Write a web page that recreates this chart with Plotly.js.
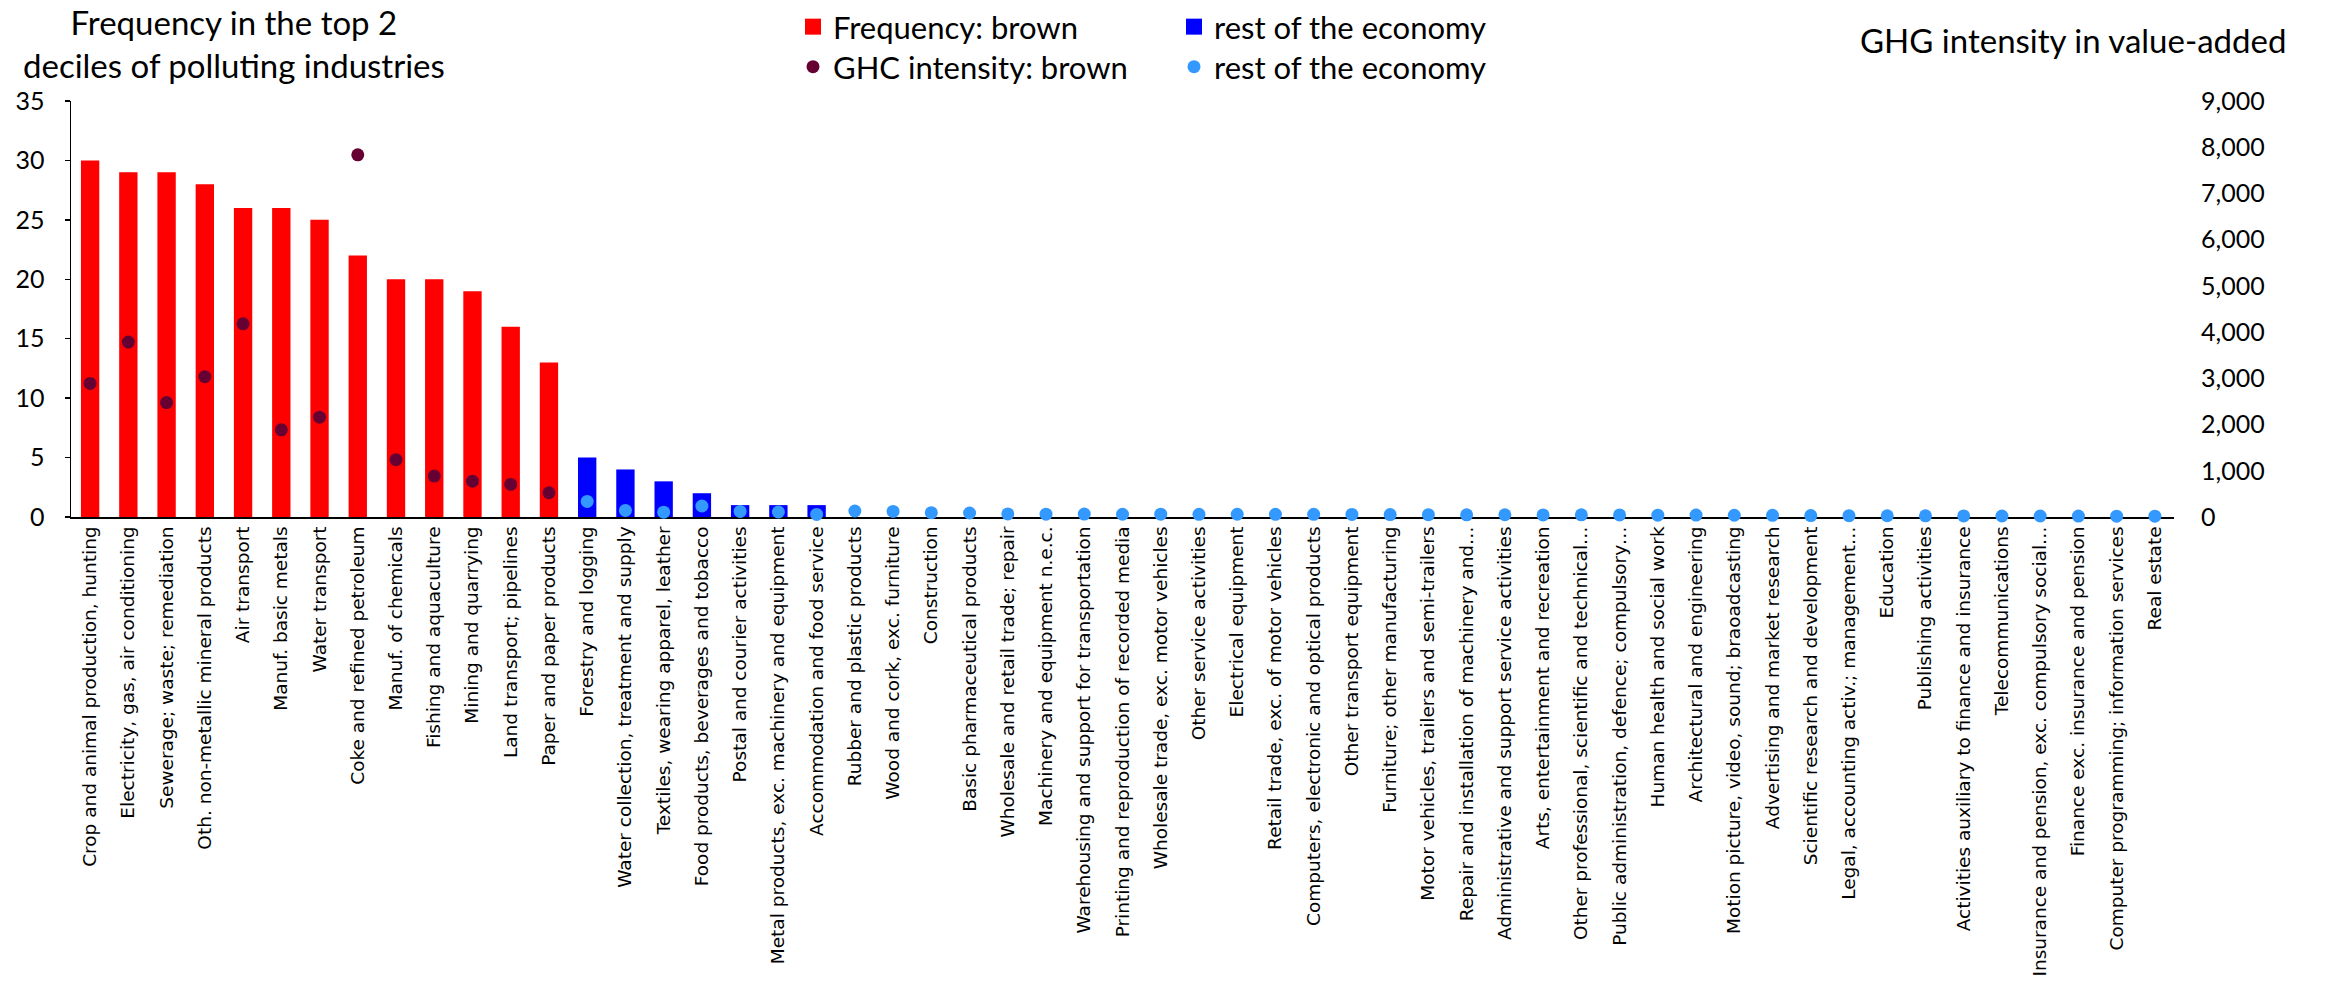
<!DOCTYPE html>
<html><head><meta charset="utf-8">
<script src="https://cdn.plot.ly/plotly-3.0.1.min.js"></script>
<style>html,body{margin:0;padding:0;background:#fff}</style>
</head><body><div id="chart" style="width:2325px;height:990px"></div>
<script>
// Brown (most polluting) industries
const brownIndustries = [
  "Crop and animal production, hunting",
  "Electricity, gas, air conditioning",
  "Sewerage; waste; remediation",
  "Oth. non-metallic mineral products",
  "Air transport",
  "Manuf. basic metals",
  "Water transport",
  "Coke and refined petroleum",
  "Manuf. of chemicals",
  "Fishing and aquaculture",
  "Mining and quarrying",
  "Land transport; pipelines",
  "Paper and paper products"
];
const freqBrown = [30, 29, 29, 28, 26, 26, 25, 22, 20, 20, 19, 16, 13];
const ghgBrown  = [2890, 3785, 2475, 3035, 4180, 1885, 2160, 7835, 1240, 885, 775, 705, 525];

// Rest of the economy
const restIndustries = [
  "Forestry and logging",
  "Water collection, treatment and supply",
  "Textiles, wearing apparel, leather",
  "Food products, beverages and tobacco",
  "Postal and courier activities",
  "Metal products, exc. machinery and equipment",
  "Accommodation and food service",
  "Rubber and plastic products",
  "Wood and cork, exc. furniture",
  "Construction",
  "Basic pharmaceutical products",
  "Wholesale and retail trade; repair",
  "Machinery and equipment n.e.c.",
  "Warehousing and support for transportation",
  "Printing and reproduction of recorded media",
  "Wholesale trade, exc. motor vehicles",
  "Other service activities",
  "Electrical equipment",
  "Retail trade, exc. of motor vehicles",
  "Computers, electronic and optical products",
  "Other transport equipment",
  "Furniture; other manufacturing",
  "Motor vehicles, trailers and semi-trailers",
  "Repair and installation of machinery and…",
  "Administrative and support service activities",
  "Arts, entertainment and recreation",
  "Other professional, scientific and technical…",
  "Public administration, defence; compulsory…",
  "Human health and social work",
  "Architectural and engineering",
  "Motion picture, video, sound; braoadcasting",
  "Advertising and market research",
  "Scientific research and development",
  "Legal, accounting activ.; management…",
  "Education",
  "Publishing activities",
  "Activities auxiliary to finance and insurance",
  "Telecommunications",
  "Insurance and pension, exc. compulsory social…",
  "Finance exc. insurance and pension",
  "Computer programming; information services",
  "Real estate"
];
const freqRest = [5, 4, 3, 2, 1, 1, 1, 0, 0, 0, 0, 0, 0, 0, 0, 0, 0, 0, 0, 0, 0,
                  0, 0, 0, 0, 0, 0, 0, 0, 0, 0, 0, 0, 0, 0, 0, 0, 0, 0, 0, 0, 0];
const ghgRest  = [337, 143, 105, 238, 121, 108, 56, 130, 121, 94, 86,
                  66, 62, 64, 60, 62, 58, 60, 57, 58, 55, 52, 50, 48, 49, 45, 46,
                  44, 40, 41, 38, 36, 30, 28, 27, 25, 24, 22, 22, 20, 18, 17];

const allIndustries = brownIndustries.concat(restIndustries);

const RED = '#FF0000', BLUE = '#0000FF', MAROON = '#660033', LIGHTBLUE = '#3399FF';

const traces = [
  {type:'bar', x:brownIndustries, y:freqBrown, marker:{color:RED}, showlegend:false, legendgroup:'fb', hoverinfo:'x+y'},
  {type:'bar', x:restIndustries, y:freqRest, marker:{color:BLUE}, showlegend:false, legendgroup:'fr', hoverinfo:'x+y'},
  {type:'scatter', mode:'markers', x:brownIndustries, y:ghgBrown, yaxis:'y2', cliponaxis:false,
   marker:{color:MAROON, size:13}, name:'GHC intensity: brown', legend:'legend2'},
  {type:'scatter', mode:'markers', x:restIndustries, y:ghgRest, yaxis:'y2', cliponaxis:false,
   marker:{color:LIGHTBLUE, size:13}, name:'rest of the economy', legend:'legend2'},
  // legend keys for the bar series
  {type:'scatter', mode:'markers', x:[null], y:[null], marker:{color:RED, symbol:'square', size:16},
   name:'Frequency: brown', legendgroup:'fb', legend:'legend'},
  {type:'scatter', mode:'markers', x:[null], y:[null], marker:{color:BLUE, symbol:'square', size:16},
   name:'rest of the economy', legendgroup:'fr', legend:'legend'}
];

const W = 2325, H = 990, L = 71, R = 151, T = 101, B = 473;
const pw = W - L - R, ph = H - T - B;
const px = v => (v - L) / pw;
const py = v => (H - B - v) / ph;

const legendFont = {family:'Lato, sans-serif', size:31, color:'#000'};

const layout = {
  width:W, height:H,
  margin:{l:L, r:R, t:T, b:B, pad:0, autoexpand:false},
  paper_bgcolor:'#fff', plot_bgcolor:'#fff',
  barmode:'overlay', bargap:0.52,
  font:{family:'Lato, sans-serif', color:'#000'},
  showlegend:true,
  xaxis:{type:'category', categoryorder:'array', categoryarray:allIndustries,
         range:[-0.5, allIndustries.length - 0.5],
         tickangle:-90, tickfont:{family:'"DejaVu Sans", sans-serif', size:18.5, color:'#000'},
         showline:true, linecolor:'#000', linewidth:2, ticks:'', showgrid:false, zeroline:false,
         automargin:false, layer:'below traces'},
  yaxis:{range:[0,35], tick0:0, dtick:5, showline:true, linecolor:'#000', linewidth:1.5,
         ticks:'outside', ticklen:5, tickcolor:'#000', tickwidth:1.5,
         tickfont:{family:'Lato, sans-serif', size:25, color:'#000'},
         showgrid:false, zeroline:false, automargin:false, ticklabelstandoff:15},
  yaxis2:{overlaying:'y', side:'right', range:[0,9000], tick0:0, dtick:1000, tickformat:',d',
          showline:false, showgrid:false, zeroline:false, ticks:'',
          tickfont:{family:'Lato, sans-serif', size:25, color:'#000'},
          automargin:false, ticklabelstandoff:26},
  legend:{orientation:'h', x:px(793), xanchor:'left', y:py(27), yanchor:'middle',
          font:legendFont, entrywidth:336, entrywidthmode:'pixels', bgcolor:'rgba(0,0,0,0)',
          itemclick:false, itemdoubleclick:false},
  legend2:{orientation:'h', x:px(793), xanchor:'left', y:py(67), yanchor:'middle',
          font:legendFont, entrywidth:336, entrywidthmode:'pixels', bgcolor:'rgba(0,0,0,0)',
          itemclick:false, itemdoubleclick:false},
  annotations:[
    {text:'Frequency in the top 2<br>deciles of polluting industries', xref:'paper', yref:'paper',
     x:px(234), y:py(44), xanchor:'center', yanchor:'middle', showarrow:false, align:'center',
     font:{family:'Lato, sans-serif', size:33, color:'#000'}},
    {text:'GHG intensity in value-added', xref:'paper', yref:'paper',
     x:px(2073), y:py(40), xanchor:'center', yanchor:'middle', showarrow:false,
     font:{family:'Lato, sans-serif', size:33, color:'#000'}}
  ]
};

Plotly.newPlot('chart', traces, layout, {displayModeBar:false, staticPlot:true});
</script>
</body></html>
